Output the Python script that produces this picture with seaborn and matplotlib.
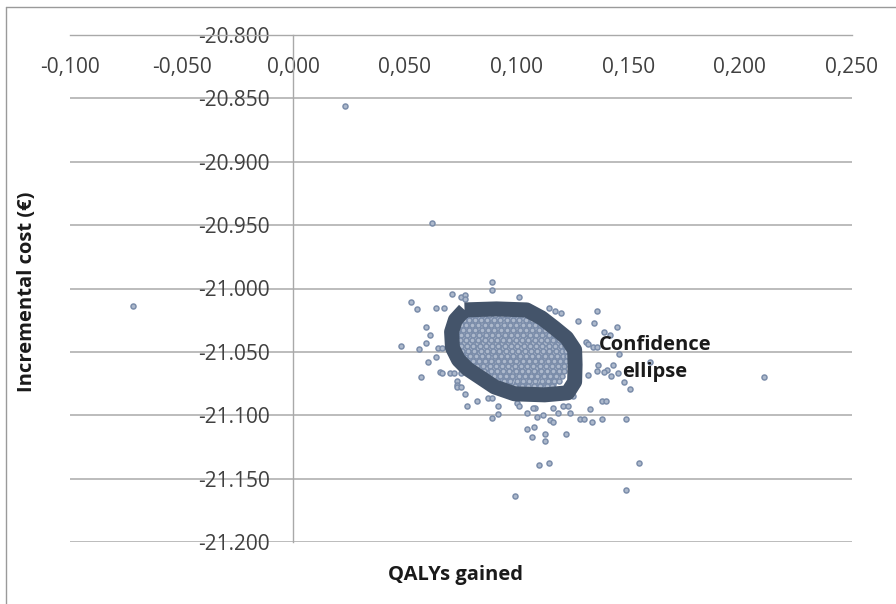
import numpy as np
import pandas as pd
import matplotlib
matplotlib.use("Agg")
import matplotlib.pyplot as plt
from matplotlib.lines import Line2D
import seaborn as sns

# ---------------- data ----------------
x_ticks = [-0.100, -0.050, 0.000, 0.050, 0.100, 0.150, 0.200, 0.250]
x_tick_labels = ["-0,100", "-0,050", "0,000", "0,050", "0,100", "0,150", "0,200", "0,250"]
y_ticks = [-21200, -21150, -21100, -21050, -21000, -20950, -20900, -20850, -20800]
y_tick_labels = ["-21.200", "-21.150", "-21.100", "-21.050", "-21.000",
                 "-20.950", "-20.900", "-20.850", "-20.800"]

# simulations around the dense core (QALYs gained, incremental cost)
outer_qaly = [0.0233, 0.0623, -0.0717, 0.2108, 0.0991, 0.1489, 0.1547, 0.1099, 0.1143,
              0.0888, 0.0888, 0.0709, 0.0749, 0.0771, 0.0767, 0.1013, 0.0529, 0.0552, 0.0641,
              0.0677, 0.1143, 0.1170, 0.1197, 0.1359, 0.1274, 0.1345, 0.1390, 0.1417, 0.1448,
              0.0596, 0.0614, 0.0596, 0.0646, 0.0668, 0.0565, 0.0484, 0.0641, 0.0605, 0.0574,
              0.0655, 0.0668, 0.0700, 0.0722, 0.0749, 0.0735, 0.0735, 0.0731, 0.0753, 0.0767,
              0.0825, 0.0780, 0.0870, 0.0888, 0.0915, 0.0915, 0.0888, 0.1000, 0.1013, 0.1045,
              0.1081, 0.1090, 0.1045, 0.1076, 0.1067, 0.1126, 0.1126, 0.1220, 0.1072, 0.1117,
              0.1161, 0.1184, 0.1238, 0.1148, 0.1161, 0.1206, 0.1229, 0.1251, 0.1283, 0.1300,
              0.1336, 0.1381, 0.1327, 0.1381, 0.1399, 0.1489, 0.1309, 0.1318, 0.1341, 0.1359,
              0.1457, 0.1363, 0.1404, 0.1430, 0.1422, 0.1359, 0.1318, 0.1453, 0.1390, 0.1507,
              0.1480, 0.1596]
outer_cost = [-20856, -20948, -21014, -21070, -21164, -21159, -21138, -21139, -21138,
              -20995, -21001, -21004, -21007, -21005, -21008, -21007, -21011, -21016, -21015,
              -21015, -21015, -21018, -21019, -21018, -21026, -21027, -21034, -21037, -21030,
              -21030, -21037, -21043, -21047, -21047, -21048, -21045, -21054, -21058, -21070,
              -21066, -21067, -21067, -21067, -21067, -21073, -21076, -21078, -21078, -21083,
              -21089, -21093, -21086, -21086, -21093, -21099, -21102, -21090, -21093, -21098,
              -21094, -21101, -21111, -21109, -21117, -21115, -21120, -21115, -21094, -21100,
              -21094, -21098, -21098, -21104, -21105, -21093, -21093, -21085, -21103, -21103,
              -21105, -21103, -21095, -21089, -21089, -21103, -21042, -21044, -21046, -21046,
              -21052, -21060, -21064, -21060, -21069, -21065, -21068, -21067, -21066, -21079,
              -21074, -21058]

# dense core of simulations, read row by row
core_cost_rows = [-21019, -21023, -21027, -21031, -21035, -21039, -21043, -21047,
                  -21051, -21055, -21059, -21063, -21067, -21071, -21075, -21079,
                  -21021, -21025, -21029, -21033, -21037, -21041, -21045, -21049,
                  -21053, -21057, -21061, -21065, -21069, -21073, -21077]
core_qaly_rows = [
    [0.0805, 0.0832, 0.0861, 0.0893, 0.0918, 0.0949, 0.0976, 0.1008, 0.1037],
    [0.0772, 0.0798, 0.0829, 0.0855, 0.0884, 0.0913, 0.0941, 0.0972, 0.0996, 0.1028, 0.1055, 0.1083],
    [0.0758, 0.0786, 0.0812, 0.0844, 0.0871, 0.0899, 0.0927, 0.0958, 0.0983, 0.1012, 0.1041, 0.1069,
     0.1098, 0.1126],
    [0.0743, 0.0774, 0.0801, 0.0829, 0.0858, 0.0886, 0.0917, 0.0943, 0.0971, 0.1002, 0.1029, 0.1057,
     0.1085, 0.1114, 0.1143, 0.1166],
    [0.0736, 0.0762, 0.0791, 0.0818, 0.0847, 0.0875, 0.0903, 0.0932, 0.0959, 0.0988, 0.1016, 0.1044,
     0.1073, 0.1101, 0.1128, 0.1156, 0.1184],
    [0.0731, 0.0759, 0.0786, 0.0814, 0.0842, 0.0871, 0.0897, 0.0926, 0.0954, 0.0983, 0.1011, 0.1038,
     0.1066, 0.1095, 0.1122, 0.1151, 0.1178, 0.1203],
    [0.0737, 0.0765, 0.0793, 0.0822, 0.0849, 0.0877, 0.0906, 0.0933, 0.0962, 0.0989, 0.1017, 0.1046,
     0.1074, 0.1101, 0.1129, 0.1158, 0.1185, 0.1212],
    [0.0741, 0.0769, 0.0797, 0.0826, 0.0853, 0.0882, 0.0909, 0.0938, 0.0965, 0.0994, 0.1021, 0.1049,
     0.1078, 0.1106, 0.1133, 0.1162, 0.1189, 0.1218],
    [0.0748, 0.0776, 0.0804, 0.0831, 0.0859, 0.0888, 0.0915, 0.0943, 0.0972, 0.0999, 0.1027, 0.1056,
     0.1083, 0.1111, 0.1139, 0.1167, 0.1195, 0.1222],
    [0.0762, 0.0789, 0.0818, 0.0845, 0.0873, 0.0902, 0.0929, 0.0957, 0.0986, 0.1013, 0.1041, 0.1069,
     0.1097, 0.1125, 0.1153, 0.1181, 0.1208],
    [0.0781, 0.0809, 0.0836, 0.0865, 0.0892, 0.0921, 0.0948, 0.0976, 0.1005, 0.1032, 0.1061, 0.1088,
     0.1116, 0.1144, 0.1172, 0.1201],
    [0.0809, 0.0837, 0.0864, 0.0893, 0.0921, 0.0948, 0.0977, 0.1004, 0.1033, 0.1061, 0.1089, 0.1117,
     0.1145, 0.1173, 0.1199],
    [0.0846, 0.0874, 0.0902, 0.0931, 0.0958, 0.0986, 0.1015, 0.1043, 0.1071, 0.1099, 0.1127, 0.1155,
     0.1184],
    [0.0892, 0.0919, 0.0947, 0.0976, 0.1004, 0.1031, 0.1059, 0.1088, 0.1115, 0.1144, 0.1171],
    [0.0941, 0.0968, 0.0997, 0.1025, 0.1053, 0.1081, 0.1109, 0.1137, 0.1163],
    [0.0992, 0.1021, 0.1049, 0.1077, 0.1106, 0.1133],
    # interleaved rows
    [0.0791, 0.0818, 0.0847, 0.0876, 0.0905, 0.0933, 0.0962, 0.0990, 0.1021, 0.1049],
    [0.0764, 0.0785, 0.0813, 0.0842, 0.0869, 0.0898, 0.0927, 0.0956, 0.0985, 0.1013, 0.1041, 0.1069,
     0.1096],
    [0.0751, 0.0772, 0.0800, 0.0828, 0.0857, 0.0885, 0.0913, 0.0942, 0.0970, 0.0998, 0.1027, 0.1055,
     0.1083, 0.1112, 0.1139],
    [0.0739, 0.0760, 0.0788, 0.0815, 0.0844, 0.0872, 0.0901, 0.0929, 0.0957, 0.0986, 0.1014, 0.1043,
     0.1071, 0.1099, 0.1128, 0.1155, 0.1176],
    [0.0733, 0.0749, 0.0777, 0.0805, 0.0833, 0.0861, 0.0889, 0.0918, 0.0946, 0.0974, 0.1002, 0.1031,
     0.1059, 0.1087, 0.1115, 0.1143, 0.1170, 0.1196],
    [0.0745, 0.0772, 0.0800, 0.0828, 0.0857, 0.0884, 0.0912, 0.0941, 0.0968, 0.0997, 0.1025, 0.1053,
     0.1081, 0.1109, 0.1137, 0.1165, 0.1192, 0.1209],
    [0.0751, 0.0779, 0.0807, 0.0836, 0.0863, 0.0891, 0.0919, 0.0948, 0.0976, 0.1004, 0.1032, 0.1060,
     0.1088, 0.1116, 0.1144, 0.1172, 0.1199, 0.1216],
    [0.0755, 0.0783, 0.0811, 0.0839, 0.0867, 0.0896, 0.0923, 0.0952, 0.0979, 0.1008, 0.1036, 0.1064,
     0.1092, 0.1120, 0.1147, 0.1176, 0.1203, 0.1222],
    [0.0757, 0.0790, 0.0818, 0.0846, 0.0874, 0.0902, 0.0930, 0.0958, 0.0986, 0.1014, 0.1042, 0.1070,
     0.1098, 0.1126, 0.1153, 0.1181, 0.1209, 0.1226],
    [0.0775, 0.0803, 0.0831, 0.0859, 0.0887, 0.0916, 0.0943, 0.0971, 0.0999, 0.1028, 0.1055, 0.1083,
     0.1111, 0.1139, 0.1167, 0.1195, 0.1222],
    [0.0795, 0.0823, 0.0851, 0.0879, 0.0907, 0.0935, 0.0963, 0.0991, 0.1019, 0.1047, 0.1075, 0.1103,
     0.1131, 0.1159, 0.1187, 0.1214],
    [0.0828, 0.0856, 0.0884, 0.0912, 0.0940, 0.0968, 0.0996, 0.1024, 0.1052, 0.1080, 0.1108, 0.1136,
     0.1164, 0.1192, 0.1213],
    [0.0869, 0.0897, 0.0925, 0.0953, 0.0981, 0.1009, 0.1037, 0.1065, 0.1093, 0.1121, 0.1149, 0.1177,
     0.1203],
    [0.0916, 0.0944, 0.0972, 0.1000, 0.1028, 0.1056, 0.1084, 0.1112, 0.1140, 0.1168, 0.1189],
    [0.0967, 0.0995, 0.1023, 0.1051, 0.1079, 0.1107, 0.1135, 0.1160],
]

# confidence ellipse outline (QALYs, cost)
ellipse_qaly = [0.0767, 0.0910, 0.1045, 0.1112, 0.1170, 0.1224, 0.1260, 0.1262, 0.1260,
                0.1229, 0.1126, 0.0991, 0.0901, 0.0834, 0.0780, 0.0740, 0.0713, 0.0709,
                0.0726, 0.0767]
ellipse_cost = [-21016.9, -21016.1, -21016.9, -21023.2, -21031.1, -21038.9, -21048.4,
                -21060.2, -21073.6, -21082.3, -21083.9, -21083.1, -21077.6, -21069.7,
                -21063.4, -21056.3, -21046.8, -21034.2, -21024.8, -21016.9]

label_x, label_y = 0.1619, -21055.5

# --------------- build table ---------------
rows = []
for c, xs in zip(core_cost_rows, core_qaly_rows):
    for q in xs:
        rows.append((q, c))
for q, c in zip(outer_qaly, outer_cost):
    rows.append((q, c))
df = pd.DataFrame(rows, columns=["qaly", "cost"])

# --------------- style ---------------
sns.set_style("white")
plt.rcParams["font.family"] = ["Open Sans", "DejaVu Sans"]

GRID = "#a9a9a9"
TICK_TXT = "#404040"
LBL_TXT = "#1a1a1a"
PT_FACE = "#ADB9CC"
PT_EDGE = "#7B8DAA"
ELL = "#44546A"

W, H = 896, 604
fig = plt.figure(figsize=(W / 100, H / 100), dpi=100)
ax = fig.add_axes([70 / W, 1 - 542 / H, 781.5 / W, 507 / H])

sns.scatterplot(data=df, x="qaly", y="cost", ax=ax, s=13, color=PT_FACE,
                edgecolor=PT_EDGE, linewidth=1.1, zorder=3, legend=False)

ax.plot(ellipse_qaly, ellipse_cost, color=ELL, lw=10.8, solid_joinstyle="round",
        solid_capstyle="butt", zorder=4)

ax.set_xlim(-0.1, 0.25)
ax.set_ylim(-21200, -20800)
ax.set_xticks(x_ticks)
ax.set_xticklabels(x_tick_labels)
ax.set_yticks(y_ticks)
ax.set_yticklabels(y_tick_labels)
ax.set_xlabel("")
ax.set_ylabel("")

for s in ["top", "right"]:
    ax.spines[s].set_visible(False)
ax.spines["left"].set_position(("data", 0))
ax.spines["bottom"].set_position(("data", -20800))
for s in ["left", "bottom"]:
    ax.spines[s].set_color(GRID)
    ax.spines[s].set_linewidth(1.0)
    ax.spines[s].set_zorder(2)

ax.tick_params(axis="x", direction="out", length=5, width=1.0, color=GRID,
               pad=11, labelsize=15, labelcolor=TICK_TXT)
ax.tick_params(axis="y", length=0, pad=17, labelsize=15, labelcolor=TICK_TXT)
ax.yaxis.grid(True, color=GRID, lw=1.1, zorder=1)
ax.xaxis.grid(False)
ax.set_axisbelow(True)

ax.text(label_x, label_y, "Confidence\nellipse", ha="center", va="center",
        fontsize=14.5, fontweight="bold", color=LBL_TXT, linespacing=1.45, zorder=6)

fig.text(455 / W, 1 - 575 / H, "QALYs gained", ha="center", va="center",
         fontsize=14.5, fontweight="bold", color=LBL_TXT)
fig.text(27 / W, 1 - 292 / H, "Incremental cost (€)", ha="center", va="center",
         rotation=90, fontsize=14.5, fontweight="bold", color=LBL_TXT)

# outer frame (top and left edges)
fig.add_artist(Line2D([6 / W, 1.0], [1 - 7 / H, 1 - 7 / H], color="#9a9a9a", lw=1.0))
fig.add_artist(Line2D([6 / W, 6 / W], [0, 1 - 7 / H], color="#9a9a9a", lw=1.0))

fig.savefig("out.png", dpi=100, facecolor="white")
